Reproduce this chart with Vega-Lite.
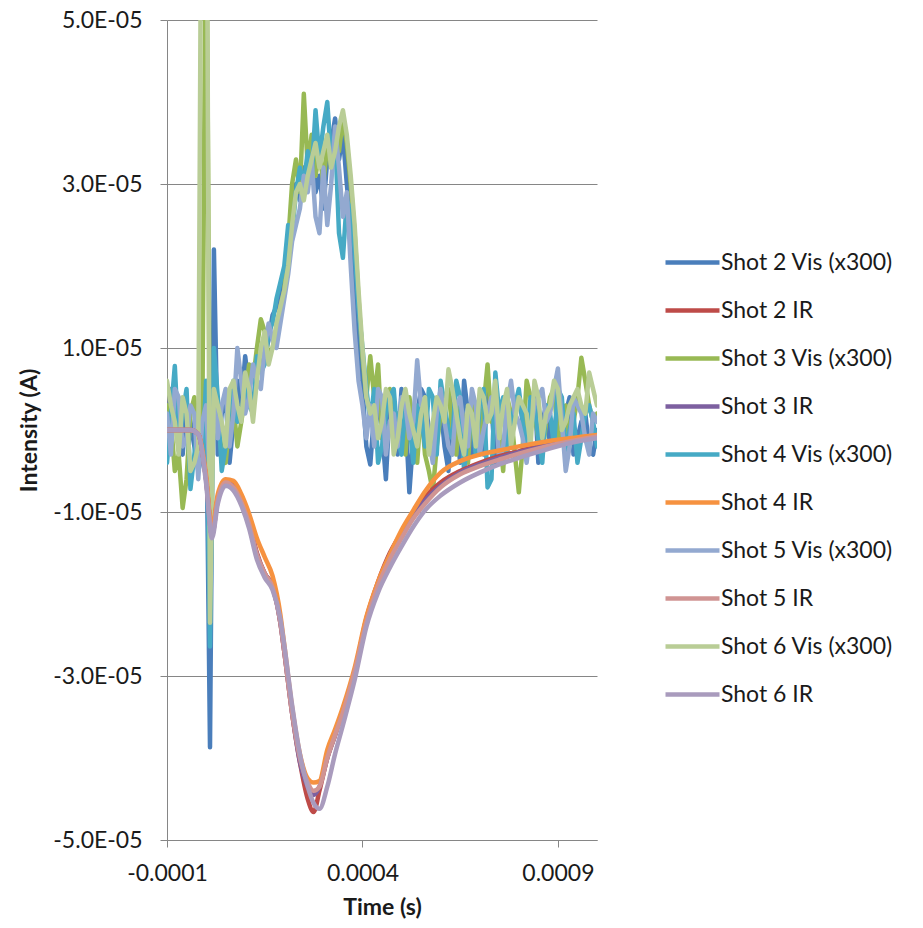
{
  "$schema": "https://vega.github.io/schema/vega-lite/v6.json",
  "width": 430,
  "height": 820,
  "autosize": {"type": "none"},
  "padding": {"left": 167, "top": 20, "right": 326, "bottom": 88},
  "background": "white",
  "datasets": {
    "vis": [
      {"t": -10e-5, "Shot 2 Vis (x300)": -0.2e-5, "Shot 3 Vis  (x300)": 0.3e-5, "Shot 4 Vis (x300)": -0.4e-5, "Shot 5 Vis (x300)": 0.2e-5, "Shot 6 Vis (x300)": 0.6e-5},
      {"t": -8e-5, "Shot 2 Vis (x300)": 0.4e-5, "Shot 3 Vis  (x300)": -0.5e-5, "Shot 4 Vis (x300)": 0.78e-5, "Shot 5 Vis (x300)": 0.5e-5, "Shot 6 Vis (x300)": 0.1e-5},
      {"t": -6e-5, "Shot 2 Vis (x300)": -0.3e-5, "Shot 3 Vis  (x300)": -0.95e-5, "Shot 4 Vis (x300)": 0.2e-5, "Shot 5 Vis (x300)": -0.2e-5, "Shot 6 Vis (x300)": 0.4e-5},
      {"t": -4e-5, "Shot 2 Vis (x300)": 0.1e-5, "Shot 3 Vis  (x300)": 0.2e-5, "Shot 4 Vis (x300)": -0.72e-5, "Shot 5 Vis (x300)": 0.3e-5, "Shot 6 Vis (x300)": -0.5e-5},
      {"t": -2e-5, "Shot 2 Vis (x300)": -0.5e-5, "Shot 3 Vis  (x300)": -0.4e-5, "Shot 4 Vis (x300)": 0.1e-5, "Shot 5 Vis (x300)": -0.6e-5, "Shot 6 Vis (x300)": -0.2e-5},
      {"t": -1e-5, "Shot 2 Vis (x300)": -0.3e-5, "Shot 3 Vis  (x300)": -0.2e-5, "Shot 4 Vis (x300)": -0.4e-5, "Shot 5 Vis (x300)": 0.1e-5, "Shot 6 Vis (x300)": 9e-5},
      {"t": 0e-5, "Shot 2 Vis (x300)": 0.5e-5, "Shot 3 Vis  (x300)": 7e-5, "Shot 4 Vis (x300)": 0.6e-5, "Shot 5 Vis (x300)": 0.3e-5, "Shot 6 Vis (x300)": 9e-5},
      {"t": 1e-5, "Shot 2 Vis (x300)": -3.87e-5, "Shot 3 Vis  (x300)": -0.5e-5, "Shot 4 Vis (x300)": -2.64e-5, "Shot 5 Vis (x300)": -0.6e-5, "Shot 6 Vis (x300)": -2.35e-5},
      {"t": 2e-5, "Shot 2 Vis (x300)": 2.2e-5, "Shot 3 Vis  (x300)": 0.3e-5, "Shot 4 Vis (x300)": 1.0e-5, "Shot 5 Vis (x300)": 0.4e-5, "Shot 6 Vis (x300)": 0.5e-5},
      {"t": 4e-5, "Shot 2 Vis (x300)": 0.2e-5, "Shot 3 Vis  (x300)": -0.3e-5, "Shot 4 Vis (x300)": -0.5e-5, "Shot 5 Vis (x300)": 0.3e-5, "Shot 6 Vis (x300)": 0.1e-5},
      {"t": 6e-5, "Shot 2 Vis (x300)": -0.4e-5, "Shot 3 Vis  (x300)": 0.1e-5, "Shot 4 Vis (x300)": 0.3e-5, "Shot 5 Vis (x300)": -0.2e-5, "Shot 6 Vis (x300)": 0.5e-5},
      {"t": 8e-5, "Shot 2 Vis (x300)": 0.6e-5, "Shot 3 Vis  (x300)": -0.2e-5, "Shot 4 Vis (x300)": 0.1e-5, "Shot 5 Vis (x300)": 1.0e-5, "Shot 6 Vis (x300)": 0.3e-5},
      {"t": 10e-5, "Shot 2 Vis (x300)": 0.9e-5, "Shot 3 Vis  (x300)": 0.4e-5, "Shot 4 Vis (x300)": 0.5e-5, "Shot 5 Vis (x300)": 0.2e-5, "Shot 6 Vis (x300)": 0.7e-5},
      {"t": 12e-5, "Shot 2 Vis (x300)": 0.3e-5, "Shot 3 Vis  (x300)": 0.6e-5, "Shot 4 Vis (x300)": 0.2e-5, "Shot 5 Vis (x300)": 0.8e-5, "Shot 6 Vis (x300)": 0.1e-5},
      {"t": 14e-5, "Shot 2 Vis (x300)": 0.8e-5, "Shot 3 Vis  (x300)": 1.35e-5, "Shot 4 Vis (x300)": 0.7e-5, "Shot 5 Vis (x300)": 0.5e-5, "Shot 6 Vis (x300)": 1.0e-5},
      {"t": 16e-5, "Shot 2 Vis (x300)": 1.1e-5, "Shot 3 Vis  (x300)": 0.9e-5, "Shot 4 Vis (x300)": 1.2e-5, "Shot 5 Vis (x300)": 1.3e-5, "Shot 6 Vis (x300)": 0.8e-5},
      {"t": 18e-5, "Shot 2 Vis (x300)": 1.5e-5, "Shot 3 Vis  (x300)": 1.2e-5, "Shot 4 Vis (x300)": 1.6e-5, "Shot 5 Vis (x300)": 1.0e-5, "Shot 6 Vis (x300)": 1.3e-5},
      {"t": 20e-5, "Shot 2 Vis (x300)": 1.9e-5, "Shot 3 Vis  (x300)": 1.7e-5, "Shot 4 Vis (x300)": 2.0e-5, "Shot 5 Vis (x300)": 1.6e-5, "Shot 6 Vis (x300)": 1.7e-5},
      {"t": 21e-5, "Shot 2 Vis (x300)": 2.2e-5, "Shot 3 Vis  (x300)": 2.3e-5, "Shot 4 Vis (x300)": 2.5e-5, "Shot 5 Vis (x300)": 1.9e-5, "Shot 6 Vis (x300)": 2.0e-5},
      {"t": 22e-5, "Shot 2 Vis (x300)": 2.6e-5, "Shot 3 Vis  (x300)": 3.0e-5, "Shot 4 Vis (x300)": 2.4e-5, "Shot 5 Vis (x300)": 2.3e-5, "Shot 6 Vis (x300)": 2.5e-5},
      {"t": 23e-5, "Shot 2 Vis (x300)": 3.0e-5, "Shot 3 Vis  (x300)": 3.3e-5, "Shot 4 Vis (x300)": 2.9e-5, "Shot 5 Vis (x300)": 2.5e-5, "Shot 6 Vis (x300)": 2.9e-5},
      {"t": 24e-5, "Shot 2 Vis (x300)": 2.8e-5, "Shot 3 Vis  (x300)": 2.9e-5, "Shot 4 Vis (x300)": 3.2e-5, "Shot 5 Vis (x300)": 2.7e-5, "Shot 6 Vis (x300)": 3.0e-5},
      {"t": 25e-5, "Shot 2 Vis (x300)": 3.2e-5, "Shot 3 Vis  (x300)": 4.1e-5, "Shot 4 Vis (x300)": 3.0e-5, "Shot 5 Vis (x300)": 3.1e-5, "Shot 6 Vis (x300)": 2.8e-5},
      {"t": 26e-5, "Shot 2 Vis (x300)": 3.0e-5, "Shot 3 Vis  (x300)": 3.2e-5, "Shot 4 Vis (x300)": 3.4e-5, "Shot 5 Vis (x300)": 2.9e-5, "Shot 6 Vis (x300)": 3.1e-5},
      {"t": 27e-5, "Shot 2 Vis (x300)": 3.4e-5, "Shot 3 Vis  (x300)": 3.6e-5, "Shot 4 Vis (x300)": 3.1e-5, "Shot 5 Vis (x300)": 3.3e-5, "Shot 6 Vis (x300)": 3.3e-5},
      {"t": 28e-5, "Shot 2 Vis (x300)": 2.9e-5, "Shot 3 Vis  (x300)": 3.1e-5, "Shot 4 Vis (x300)": 3.9e-5, "Shot 5 Vis (x300)": 2.6e-5, "Shot 6 Vis (x300)": 3.5e-5},
      {"t": 29e-5, "Shot 2 Vis (x300)": 3.1e-5, "Shot 3 Vis  (x300)": 3.4e-5, "Shot 4 Vis (x300)": 3.3e-5, "Shot 5 Vis (x300)": 2.4e-5, "Shot 6 Vis (x300)": 3.2e-5},
      {"t": 30e-5, "Shot 2 Vis (x300)": 2.7e-5, "Shot 3 Vis  (x300)": 3.0e-5, "Shot 4 Vis (x300)": 3.7e-5, "Shot 5 Vis (x300)": 3.2e-5, "Shot 6 Vis (x300)": 3.4e-5},
      {"t": 31e-5, "Shot 2 Vis (x300)": 3.3e-5, "Shot 3 Vis  (x300)": 3.5e-5, "Shot 4 Vis (x300)": 4.0e-5, "Shot 5 Vis (x300)": 2.5e-5, "Shot 6 Vis (x300)": 3.6e-5},
      {"t": 32e-5, "Shot 2 Vis (x300)": 3.5e-5, "Shot 3 Vis  (x300)": 3.2e-5, "Shot 4 Vis (x300)": 3.3e-5, "Shot 5 Vis (x300)": 3.0e-5, "Shot 6 Vis (x300)": 3.2e-5},
      {"t": 33e-5, "Shot 2 Vis (x300)": 3.8e-5, "Shot 3 Vis  (x300)": 3.6e-5, "Shot 4 Vis (x300)": 3.6e-5, "Shot 5 Vis (x300)": 3.7e-5, "Shot 6 Vis (x300)": 3.4e-5},
      {"t": 34e-5, "Shot 2 Vis (x300)": 3.3e-5, "Shot 3 Vis  (x300)": 3.4e-5, "Shot 4 Vis (x300)": 2.4e-5, "Shot 5 Vis (x300)": 3.2e-5, "Shot 6 Vis (x300)": 3.7e-5},
      {"t": 35e-5, "Shot 2 Vis (x300)": 3.6e-5, "Shot 3 Vis  (x300)": 3.8e-5, "Shot 4 Vis (x300)": 2.1e-5, "Shot 5 Vis (x300)": 2.6e-5, "Shot 6 Vis (x300)": 3.9e-5},
      {"t": 36e-5, "Shot 2 Vis (x300)": 3.0e-5, "Shot 3 Vis  (x300)": 3.5e-5, "Shot 4 Vis (x300)": 2.8e-5, "Shot 5 Vis (x300)": 2.9e-5, "Shot 6 Vis (x300)": 3.6e-5},
      {"t": 37e-5, "Shot 2 Vis (x300)": 2.5e-5, "Shot 3 Vis  (x300)": 3.0e-5, "Shot 4 Vis (x300)": 2.7e-5, "Shot 5 Vis (x300)": 2.0e-5, "Shot 6 Vis (x300)": 3.1e-5},
      {"t": 38e-5, "Shot 2 Vis (x300)": 1.8e-5, "Shot 3 Vis  (x300)": 2.4e-5, "Shot 4 Vis (x300)": 2.2e-5, "Shot 5 Vis (x300)": 1.2e-5, "Shot 6 Vis (x300)": 2.5e-5},
      {"t": 39e-5, "Shot 2 Vis (x300)": 1.1e-5, "Shot 3 Vis  (x300)": 1.6e-5, "Shot 4 Vis (x300)": 1.5e-5, "Shot 5 Vis (x300)": 0.6e-5, "Shot 6 Vis (x300)": 1.7e-5},
      {"t": 40e-5, "Shot 2 Vis (x300)": 0.5e-5, "Shot 3 Vis  (x300)": 0.9e-5, "Shot 4 Vis (x300)": 1.0e-5, "Shot 5 Vis (x300)": 0.3e-5, "Shot 6 Vis (x300)": 1.0e-5},
      {"t": 41e-5, "Shot 2 Vis (x300)": -0.2e-5, "Shot 3 Vis  (x300)": 0.4e-5, "Shot 4 Vis (x300)": 0.5e-5, "Shot 5 Vis (x300)": -0.1e-5, "Shot 6 Vis (x300)": 0.4e-5},
      {"t": 42e-5, "Shot 2 Vis (x300)": -0.42e-5, "Shot 3 Vis  (x300)": 0.9e-5, "Shot 4 Vis (x300)": 0.1e-5, "Shot 5 Vis (x300)": 0.3e-5, "Shot 6 Vis (x300)": 0.2e-5},
      {"t": 44e-5, "Shot 2 Vis (x300)": 0.3e-5, "Shot 3 Vis  (x300)": 0.8e-5, "Shot 4 Vis (x300)": -0.4e-5, "Shot 5 Vis (x300)": 0.5e-5, "Shot 6 Vis (x300)": -0.1e-5},
      {"t": 46e-5, "Shot 2 Vis (x300)": -0.6e-5, "Shot 3 Vis  (x300)": 0.3e-5, "Shot 4 Vis (x300)": 0.2e-5, "Shot 5 Vis (x300)": -0.3e-5, "Shot 6 Vis (x300)": 0.5e-5},
      {"t": 48e-5, "Shot 2 Vis (x300)": 0.1e-5, "Shot 3 Vis  (x300)": -0.2e-5, "Shot 4 Vis (x300)": 0.5e-5, "Shot 5 Vis (x300)": 0.2e-5, "Shot 6 Vis (x300)": -0.3e-5},
      {"t": 50e-5, "Shot 2 Vis (x300)": 0.5e-5, "Shot 3 Vis  (x300)": 0.1e-5, "Shot 4 Vis (x300)": -0.3e-5, "Shot 5 Vis (x300)": 0.4e-5, "Shot 6 Vis (x300)": 0.3e-5},
      {"t": 52e-5, "Shot 2 Vis (x300)": -0.76e-5, "Shot 3 Vis  (x300)": 0.4e-5, "Shot 4 Vis (x300)": 0.1e-5, "Shot 5 Vis (x300)": -0.1e-5, "Shot 6 Vis (x300)": 0.2e-5},
      {"t": 54e-5, "Shot 2 Vis (x300)": 0.2e-5, "Shot 3 Vis  (x300)": -0.4e-5, "Shot 4 Vis (x300)": 0.3e-5, "Shot 5 Vis (x300)": 0.85e-5, "Shot 6 Vis (x300)": -0.2e-5},
      {"t": 56e-5, "Shot 2 Vis (x300)": 0.4e-5, "Shot 3 Vis  (x300)": -0.3e-5, "Shot 4 Vis (x300)": -0.2e-5, "Shot 5 Vis (x300)": 0.3e-5, "Shot 6 Vis (x300)": 0.4e-5},
      {"t": 58e-5, "Shot 2 Vis (x300)": -0.2e-5, "Shot 3 Vis  (x300)": -0.75e-5, "Shot 4 Vis (x300)": 0.4e-5, "Shot 5 Vis (x300)": -0.4e-5, "Shot 6 Vis (x300)": 0.1e-5},
      {"t": 60e-5, "Shot 2 Vis (x300)": 0.3e-5, "Shot 3 Vis  (x300)": 0.2e-5, "Shot 4 Vis (x300)": 0.6e-5, "Shot 5 Vis (x300)": 0.5e-5, "Shot 6 Vis (x300)": 0.3e-5},
      {"t": 62e-5, "Shot 2 Vis (x300)": -0.5e-5, "Shot 3 Vis  (x300)": 0.5e-5, "Shot 4 Vis (x300)": 0.0e-5, "Shot 5 Vis (x300)": -0.2e-5, "Shot 6 Vis (x300)": 0.74e-5},
      {"t": 64e-5, "Shot 2 Vis (x300)": 0.1e-5, "Shot 3 Vis  (x300)": -0.3e-5, "Shot 4 Vis (x300)": 0.6e-5, "Shot 5 Vis (x300)": 0.3e-5, "Shot 6 Vis (x300)": 0.2e-5},
      {"t": 66e-5, "Shot 2 Vis (x300)": 0.6e-5, "Shot 3 Vis  (x300)": 0.1e-5, "Shot 4 Vis (x300)": -0.5e-5, "Shot 5 Vis (x300)": 0.0e-5, "Shot 6 Vis (x300)": -0.3e-5},
      {"t": 68e-5, "Shot 2 Vis (x300)": -0.3e-5, "Shot 3 Vis  (x300)": 0.4e-5, "Shot 4 Vis (x300)": 0.2e-5, "Shot 5 Vis (x300)": 0.5e-5, "Shot 6 Vis (x300)": 0.2e-5},
      {"t": 70e-5, "Shot 2 Vis (x300)": 0.2e-5, "Shot 3 Vis  (x300)": -0.2e-5, "Shot 4 Vis (x300)": 0.3e-5, "Shot 5 Vis (x300)": -0.3e-5, "Shot 6 Vis (x300)": 0.5e-5},
      {"t": 72e-5, "Shot 2 Vis (x300)": 0.5e-5, "Shot 3 Vis  (x300)": 0.8e-5, "Shot 4 Vis (x300)": -0.7e-5, "Shot 5 Vis (x300)": 0.2e-5, "Shot 6 Vis (x300)": 0.1e-5},
      {"t": 74e-5, "Shot 2 Vis (x300)": -0.4e-5, "Shot 3 Vis  (x300)": 0.3e-5, "Shot 4 Vis (x300)": 0.7e-5, "Shot 5 Vis (x300)": 0.4e-5, "Shot 6 Vis (x300)": 0.6e-5},
      {"t": 76e-5, "Shot 2 Vis (x300)": 0.3e-5, "Shot 3 Vis  (x300)": -0.5e-5, "Shot 4 Vis (x300)": 0.4e-5, "Shot 5 Vis (x300)": -0.2e-5, "Shot 6 Vis (x300)": 0.3e-5},
      {"t": 78e-5, "Shot 2 Vis (x300)": 0.0e-5, "Shot 3 Vis  (x300)": 0.2e-5, "Shot 4 Vis (x300)": 0.1e-5, "Shot 5 Vis (x300)": 0.6e-5, "Shot 6 Vis (x300)": -0.2e-5},
      {"t": 80e-5, "Shot 2 Vis (x300)": 0.4e-5, "Shot 3 Vis  (x300)": -0.76e-5, "Shot 4 Vis (x300)": 0.5e-5, "Shot 5 Vis (x300)": 0.1e-5, "Shot 6 Vis (x300)": 0.4e-5},
      {"t": 82e-5, "Shot 2 Vis (x300)": -0.3e-5, "Shot 3 Vis  (x300)": 0.6e-5, "Shot 4 Vis (x300)": -0.2e-5, "Shot 5 Vis (x300)": -0.4e-5, "Shot 6 Vis (x300)": 0.2e-5},
      {"t": 84e-5, "Shot 2 Vis (x300)": 0.5e-5, "Shot 3 Vis  (x300)": 0.2e-5, "Shot 4 Vis (x300)": 0.3e-5, "Shot 5 Vis (x300)": 0.3e-5, "Shot 6 Vis (x300)": 0.6e-5},
      {"t": 86e-5, "Shot 2 Vis (x300)": 0.1e-5, "Shot 3 Vis  (x300)": -0.3e-5, "Shot 4 Vis (x300)": -0.4e-5, "Shot 5 Vis (x300)": 0.5e-5, "Shot 6 Vis (x300)": -0.1e-5},
      {"t": 88e-5, "Shot 2 Vis (x300)": -0.2e-5, "Shot 3 Vis  (x300)": 0.4e-5, "Shot 4 Vis (x300)": 0.2e-5, "Shot 5 Vis (x300)": 0.2e-5, "Shot 6 Vis (x300)": 0.3e-5},
      {"t": 90e-5, "Shot 2 Vis (x300)": 0.3e-5, "Shot 3 Vis  (x300)": -0.1e-5, "Shot 4 Vis (x300)": 0.5e-5, "Shot 5 Vis (x300)": 0.75e-5, "Shot 6 Vis (x300)": 0.5e-5},
      {"t": 92e-5, "Shot 2 Vis (x300)": 0.2e-5, "Shot 3 Vis  (x300)": 0.3e-5, "Shot 4 Vis (x300)": -0.3e-5, "Shot 5 Vis (x300)": -0.5e-5, "Shot 6 Vis (x300)": 0.1e-5},
      {"t": 94e-5, "Shot 2 Vis (x300)": -0.3e-5, "Shot 3 Vis  (x300)": 0.1e-5, "Shot 4 Vis (x300)": 0.2e-5, "Shot 5 Vis (x300)": 0.4e-5, "Shot 6 Vis (x300)": 0.4e-5},
      {"t": 96e-5, "Shot 2 Vis (x300)": 0.1e-5, "Shot 3 Vis  (x300)": 0.88e-5, "Shot 4 Vis (x300)": -0.1e-5, "Shot 5 Vis (x300)": 0.2e-5, "Shot 6 Vis (x300)": 0.3e-5},
      {"t": 98e-5, "Shot 2 Vis (x300)": -0.2e-5, "Shot 3 Vis  (x300)": 0.3e-5, "Shot 4 Vis (x300)": 0.3e-5, "Shot 5 Vis (x300)": -0.3e-5, "Shot 6 Vis (x300)": 0.7e-5},
      {"t": 100e-5, "Shot 2 Vis (x300)": 0.0e-5, "Shot 3 Vis  (x300)": 0.2e-5, "Shot 4 Vis (x300)": -0.2e-5, "Shot 5 Vis (x300)": 0.1e-5, "Shot 6 Vis (x300)": 0.3e-5},
      {"t": -9e-5, "Shot 2 Vis (x300)": 0.5e-5, "Shot 3 Vis  (x300)": 0.1e-5, "Shot 4 Vis (x300)": 0.2e-5, "Shot 5 Vis (x300)": -0.3e-5, "Shot 6 Vis (x300)": 0.3e-5},
      {"t": -7e-5, "Shot 2 Vis (x300)": -0.1e-5, "Shot 3 Vis  (x300)": -0.3e-5, "Shot 4 Vis (x300)": -0.2e-5, "Shot 5 Vis (x300)": 0.4e-5, "Shot 6 Vis (x300)": -0.3e-5},
      {"t": -5e-5, "Shot 2 Vis (x300)": 0.3e-5, "Shot 3 Vis  (x300)": -0.6e-5, "Shot 4 Vis (x300)": 0.5e-5, "Shot 5 Vis (x300)": -0.1e-5, "Shot 6 Vis (x300)": 0.2e-5},
      {"t": -3e-5, "Shot 2 Vis (x300)": -0.2e-5, "Shot 3 Vis  (x300)": 0.4e-5, "Shot 4 Vis (x300)": -0.3e-5, "Shot 5 Vis (x300)": 0.2e-5, "Shot 6 Vis (x300)": -0.4e-5},
      {"t": 3e-5, "Shot 2 Vis (x300)": -0.3e-5, "Shot 3 Vis  (x300)": 0.2e-5, "Shot 4 Vis (x300)": 0.4e-5, "Shot 5 Vis (x300)": -0.1e-5, "Shot 6 Vis (x300)": 0.3e-5},
      {"t": 5e-5, "Shot 2 Vis (x300)": 0.4e-5, "Shot 3 Vis  (x300)": -0.4e-5, "Shot 4 Vis (x300)": -0.2e-5, "Shot 5 Vis (x300)": 0.5e-5, "Shot 6 Vis (x300)": -0.2e-5},
      {"t": 7e-5, "Shot 2 Vis (x300)": 0.1e-5, "Shot 3 Vis  (x300)": 0.3e-5, "Shot 4 Vis (x300)": 0.6e-5, "Shot 5 Vis (x300)": 0.2e-5, "Shot 6 Vis (x300)": 0.6e-5},
      {"t": 9e-5, "Shot 2 Vis (x300)": 0.3e-5, "Shot 3 Vis  (x300)": 0.1e-5, "Shot 4 Vis (x300)": 0.2e-5, "Shot 5 Vis (x300)": 0.6e-5, "Shot 6 Vis (x300)": 0.1e-5},
      {"t": 11e-5, "Shot 2 Vis (x300)": 0.5e-5, "Shot 3 Vis  (x300)": 0.8e-5, "Shot 4 Vis (x300)": 0.3e-5, "Shot 5 Vis (x300)": 0.4e-5, "Shot 6 Vis (x300)": 0.5e-5},
      {"t": 13e-5, "Shot 2 Vis (x300)": 0.7e-5, "Shot 3 Vis  (x300)": 1.0e-5, "Shot 4 Vis (x300)": 0.9e-5, "Shot 5 Vis (x300)": 0.6e-5, "Shot 6 Vis (x300)": 0.6e-5},
      {"t": 15e-5, "Shot 2 Vis (x300)": 0.9e-5, "Shot 3 Vis  (x300)": 1.2e-5, "Shot 4 Vis (x300)": 0.8e-5, "Shot 5 Vis (x300)": 1.0e-5, "Shot 6 Vis (x300)": 1.2e-5},
      {"t": 17e-5, "Shot 2 Vis (x300)": 1.4e-5, "Shot 3 Vis  (x300)": 1.0e-5, "Shot 4 Vis (x300)": 1.3e-5, "Shot 5 Vis (x300)": 1.1e-5, "Shot 6 Vis (x300)": 1.0e-5},
      {"t": 19e-5, "Shot 2 Vis (x300)": 1.6e-5, "Shot 3 Vis  (x300)": 1.5e-5, "Shot 4 Vis (x300)": 1.8e-5, "Shot 5 Vis (x300)": 1.3e-5, "Shot 6 Vis (x300)": 1.5e-5},
      {"t": 43e-5, "Shot 2 Vis (x300)": 0.2e-5, "Shot 3 Vis  (x300)": 0.4e-5, "Shot 4 Vis (x300)": 0.5e-5, "Shot 5 Vis (x300)": -0.2e-5, "Shot 6 Vis (x300)": 0.3e-5},
      {"t": 45e-5, "Shot 2 Vis (x300)": 0.0e-5, "Shot 3 Vis  (x300)": -0.1e-5, "Shot 4 Vis (x300)": -0.2e-5, "Shot 5 Vis (x300)": 0.4e-5, "Shot 6 Vis (x300)": 0.1e-5},
      {"t": 47e-5, "Shot 2 Vis (x300)": 0.3e-5, "Shot 3 Vis  (x300)": 0.5e-5, "Shot 4 Vis (x300)": 0.4e-5, "Shot 5 Vis (x300)": 0.1e-5, "Shot 6 Vis (x300)": 0.4e-5},
      {"t": 49e-5, "Shot 2 Vis (x300)": -0.3e-5, "Shot 3 Vis  (x300)": 0.2e-5, "Shot 4 Vis (x300)": -0.1e-5, "Shot 5 Vis (x300)": -0.2e-5, "Shot 6 Vis (x300)": -0.1e-5},
      {"t": 51e-5, "Shot 2 Vis (x300)": 0.2e-5, "Shot 3 Vis  (x300)": -0.3e-5, "Shot 4 Vis (x300)": 0.3e-5, "Shot 5 Vis (x300)": 0.3e-5, "Shot 6 Vis (x300)": 0.5e-5},
      {"t": 53e-5, "Shot 2 Vis (x300)": -0.1e-5, "Shot 3 Vis  (x300)": 0.1e-5, "Shot 4 Vis (x300)": -0.4e-5, "Shot 5 Vis (x300)": 0.1e-5, "Shot 6 Vis (x300)": 0.0e-5},
      {"t": 55e-5, "Shot 2 Vis (x300)": 0.5e-5, "Shot 3 Vis  (x300)": 0.3e-5, "Shot 4 Vis (x300)": 0.2e-5, "Shot 5 Vis (x300)": 0.3e-5, "Shot 6 Vis (x300)": 0.2e-5},
      {"t": 57e-5, "Shot 2 Vis (x300)": 0.0e-5, "Shot 3 Vis  (x300)": -0.5e-5, "Shot 4 Vis (x300)": 0.5e-5, "Shot 5 Vis (x300)": -0.1e-5, "Shot 6 Vis (x300)": -0.3e-5},
      {"t": 59e-5, "Shot 2 Vis (x300)": 0.2e-5, "Shot 3 Vis  (x300)": -0.2e-5, "Shot 4 Vis (x300)": -0.3e-5, "Shot 5 Vis (x300)": 0.2e-5, "Shot 6 Vis (x300)": 0.4e-5},
      {"t": 61e-5, "Shot 2 Vis (x300)": -0.2e-5, "Shot 3 Vis  (x300)": 0.4e-5, "Shot 4 Vis (x300)": 0.3e-5, "Shot 5 Vis (x300)": 0.1e-5, "Shot 6 Vis (x300)": 0.1e-5},
      {"t": 63e-5, "Shot 2 Vis (x300)": 0.4e-5, "Shot 3 Vis  (x300)": 0.0e-5, "Shot 4 Vis (x300)": -0.1e-5, "Shot 5 Vis (x300)": -0.3e-5, "Shot 6 Vis (x300)": 0.5e-5},
      {"t": 65e-5, "Shot 2 Vis (x300)": -0.4e-5, "Shot 3 Vis  (x300)": 0.3e-5, "Shot 4 Vis (x300)": 0.4e-5, "Shot 5 Vis (x300)": 0.4e-5, "Shot 6 Vis (x300)": -0.1e-5},
      {"t": 67e-5, "Shot 2 Vis (x300)": 0.2e-5, "Shot 3 Vis  (x300)": -0.4e-5, "Shot 4 Vis (x300)": 0.0e-5, "Shot 5 Vis (x300)": -0.2e-5, "Shot 6 Vis (x300)": 0.3e-5},
      {"t": 69e-5, "Shot 2 Vis (x300)": 0.0e-5, "Shot 3 Vis  (x300)": 0.2e-5, "Shot 4 Vis (x300)": -0.3e-5, "Shot 5 Vis (x300)": 0.3e-5, "Shot 6 Vis (x300)": -0.2e-5},
      {"t": 71e-5, "Shot 2 Vis (x300)": -0.3e-5, "Shot 3 Vis  (x300)": 0.3e-5, "Shot 4 Vis (x300)": 0.5e-5, "Shot 5 Vis (x300)": 0.0e-5, "Shot 6 Vis (x300)": 0.4e-5},
      {"t": 73e-5, "Shot 2 Vis (x300)": 0.3e-5, "Shot 3 Vis  (x300)": 0.1e-5, "Shot 4 Vis (x300)": -0.6e-5, "Shot 5 Vis (x300)": 0.4e-5, "Shot 6 Vis (x300)": 0.2e-5},
      {"t": 75e-5, "Shot 2 Vis (x300)": 0.1e-5, "Shot 3 Vis  (x300)": 0.0e-5, "Shot 4 Vis (x300)": 0.2e-5, "Shot 5 Vis (x300)": -0.4e-5, "Shot 6 Vis (x300)": -0.1e-5},
      {"t": 77e-5, "Shot 2 Vis (x300)": -0.2e-5, "Shot 3 Vis  (x300)": 0.4e-5, "Shot 4 Vis (x300)": -0.3e-5, "Shot 5 Vis (x300)": 0.3e-5, "Shot 6 Vis (x300)": 0.5e-5},
      {"t": 79e-5, "Shot 2 Vis (x300)": 0.3e-5, "Shot 3 Vis  (x300)": -0.3e-5, "Shot 4 Vis (x300)": 0.3e-5, "Shot 5 Vis (x300)": 0.2e-5, "Shot 6 Vis (x300)": 0.1e-5},
      {"t": 81e-5, "Shot 2 Vis (x300)": 0.1e-5, "Shot 3 Vis  (x300)": -0.2e-5, "Shot 4 Vis (x300)": 0.1e-5, "Shot 5 Vis (x300)": -0.1e-5, "Shot 6 Vis (x300)": 0.3e-5},
      {"t": 83e-5, "Shot 2 Vis (x300)": 0.2e-5, "Shot 3 Vis  (x300)": 0.4e-5, "Shot 4 Vis (x300)": 0.4e-5, "Shot 5 Vis (x300)": 0.0e-5, "Shot 6 Vis (x300)": -0.2e-5},
      {"t": 85e-5, "Shot 2 Vis (x300)": -0.4e-5, "Shot 3 Vis  (x300)": -0.1e-5, "Shot 4 Vis (x300)": -0.1e-5, "Shot 5 Vis (x300)": 0.4e-5, "Shot 6 Vis (x300)": 0.4e-5},
      {"t": 87e-5, "Shot 2 Vis (x300)": 0.3e-5, "Shot 3 Vis  (x300)": 0.1e-5, "Shot 4 Vis (x300)": 0.3e-5, "Shot 5 Vis (x300)": 0.1e-5, "Shot 6 Vis (x300)": 0.2e-5},
      {"t": 89e-5, "Shot 2 Vis (x300)": 0.0e-5, "Shot 3 Vis  (x300)": 0.5e-5, "Shot 4 Vis (x300)": -0.2e-5, "Shot 5 Vis (x300)": 0.5e-5, "Shot 6 Vis (x300)": 0.6e-5},
      {"t": 91e-5, "Shot 2 Vis (x300)": -0.1e-5, "Shot 3 Vis  (x300)": 0.0e-5, "Shot 4 Vis (x300)": 0.4e-5, "Shot 5 Vis (x300)": 0.1e-5, "Shot 6 Vis (x300)": 0.0e-5},
      {"t": 93e-5, "Shot 2 Vis (x300)": 0.4e-5, "Shot 3 Vis  (x300)": -0.2e-5, "Shot 4 Vis (x300)": 0.0e-5, "Shot 5 Vis (x300)": -0.2e-5, "Shot 6 Vis (x300)": 0.3e-5},
      {"t": 95e-5, "Shot 2 Vis (x300)": -0.1e-5, "Shot 3 Vis  (x300)": 0.4e-5, "Shot 4 Vis (x300)": -0.4e-5, "Shot 5 Vis (x300)": 0.3e-5, "Shot 6 Vis (x300)": 0.5e-5},
      {"t": 97e-5, "Shot 2 Vis (x300)": 0.2e-5, "Shot 3 Vis  (x300)": 0.6e-5, "Shot 4 Vis (x300)": 0.2e-5, "Shot 5 Vis (x300)": -0.1e-5, "Shot 6 Vis (x300)": 0.2e-5},
      {"t": 99e-5, "Shot 2 Vis (x300)": -0.3e-5, "Shot 3 Vis  (x300)": 0.1e-5, "Shot 4 Vis (x300)": 0.1e-5, "Shot 5 Vis (x300)": 0.2e-5, "Shot 6 Vis (x300)": 0.5e-5}
    ],
    "ir": [
      {"t": -10e-5, "Shot 2 IR": 0e-5, "Shot 3 IR": 0e-5, "Shot 4 IR": 0e-5, "Shot 5 IR": 0e-5, "Shot 6 IR": 0e-5},
      {"t": -4e-5, "Shot 2 IR": 0e-5, "Shot 3 IR": 0e-5, "Shot 4 IR": 0e-5, "Shot 5 IR": 0e-5, "Shot 6 IR": 0e-5},
      {"t": -2e-5, "Shot 2 IR": -0.05e-5, "Shot 3 IR": -0.05e-5, "Shot 4 IR": -0.05e-5, "Shot 5 IR": -0.05e-5, "Shot 6 IR": -0.05e-5},
      {"t": 0e-5, "Shot 2 IR": -0.6e-5, "Shot 3 IR": -0.6e-5, "Shot 4 IR": -0.55e-5, "Shot 5 IR": -0.6e-5, "Shot 6 IR": -0.65e-5},
      {"t": 1.5e-5, "Shot 2 IR": -1.25e-5, "Shot 3 IR": -1.28e-5, "Shot 4 IR": -1.22e-5, "Shot 5 IR": -1.28e-5, "Shot 6 IR": -1.32e-5},
      {"t": 3e-5, "Shot 2 IR": -0.82e-5, "Shot 3 IR": -0.85e-5, "Shot 4 IR": -0.78e-5, "Shot 5 IR": -0.85e-5, "Shot 6 IR": -0.9e-5},
      {"t": 5e-5, "Shot 2 IR": -0.62e-5, "Shot 3 IR": -0.64e-5, "Shot 4 IR": -0.6e-5, "Shot 5 IR": -0.64e-5, "Shot 6 IR": -0.68e-5},
      {"t": 7e-5, "Shot 2 IR": -0.68e-5, "Shot 3 IR": -0.7e-5, "Shot 4 IR": -0.62e-5, "Shot 5 IR": -0.7e-5, "Shot 6 IR": -0.74e-5},
      {"t": 9e-5, "Shot 2 IR": -0.85e-5, "Shot 3 IR": -0.88e-5, "Shot 4 IR": -0.78e-5, "Shot 5 IR": -0.88e-5, "Shot 6 IR": -0.92e-5},
      {"t": 11e-5, "Shot 2 IR": -1.12e-5, "Shot 3 IR": -1.15e-5, "Shot 4 IR": -1.02e-5, "Shot 5 IR": -1.15e-5, "Shot 6 IR": -1.2e-5},
      {"t": 13e-5, "Shot 2 IR": -1.5e-5, "Shot 3 IR": -1.52e-5, "Shot 4 IR": -1.32e-5, "Shot 5 IR": -1.52e-5, "Shot 6 IR": -1.58e-5},
      {"t": 15e-5, "Shot 2 IR": -1.75e-5, "Shot 3 IR": -1.75e-5, "Shot 4 IR": -1.55e-5, "Shot 5 IR": -1.75e-5, "Shot 6 IR": -1.8e-5},
      {"t": 17e-5, "Shot 2 IR": -1.9e-5, "Shot 3 IR": -1.92e-5, "Shot 4 IR": -1.78e-5, "Shot 5 IR": -1.92e-5, "Shot 6 IR": -1.95e-5},
      {"t": 19e-5, "Shot 2 IR": -2.35e-5, "Shot 3 IR": -2.35e-5, "Shot 4 IR": -2.25e-5, "Shot 5 IR": -2.35e-5, "Shot 6 IR": -2.3e-5},
      {"t": 20e-5, "Shot 2 IR": -2.7e-5, "Shot 3 IR": -2.7e-5, "Shot 4 IR": -2.62e-5, "Shot 5 IR": -2.7e-5, "Shot 6 IR": -2.62e-5},
      {"t": 22e-5, "Shot 2 IR": -3.45e-5, "Shot 3 IR": -3.45e-5, "Shot 4 IR": -3.38e-5, "Shot 5 IR": -3.45e-5, "Shot 6 IR": -3.35e-5},
      {"t": 24e-5, "Shot 2 IR": -4.05e-5, "Shot 3 IR": -4.05e-5, "Shot 4 IR": -3.95e-5, "Shot 5 IR": -4.0e-5, "Shot 6 IR": -3.95e-5},
      {"t": 26e-5, "Shot 2 IR": -4.5e-5, "Shot 3 IR": -4.35e-5, "Shot 4 IR": -4.25e-5, "Shot 5 IR": -4.3e-5, "Shot 6 IR": -4.35e-5},
      {"t": 27.5e-5, "Shot 2 IR": -4.66e-5, "Shot 3 IR": -4.45e-5, "Shot 4 IR": -4.3e-5, "Shot 5 IR": -4.4e-5, "Shot 6 IR": -4.55e-5},
      {"t": 29e-5, "Shot 2 IR": -4.4e-5, "Shot 3 IR": -4.35e-5, "Shot 4 IR": -4.28e-5, "Shot 5 IR": -4.35e-5, "Shot 6 IR": -4.62e-5},
      {"t": 31e-5, "Shot 2 IR": -4.0e-5, "Shot 3 IR": -4.0e-5, "Shot 4 IR": -3.9e-5, "Shot 5 IR": -4.0e-5, "Shot 6 IR": -4.35e-5},
      {"t": 33e-5, "Shot 2 IR": -3.72e-5, "Shot 3 IR": -3.72e-5, "Shot 4 IR": -3.65e-5, "Shot 5 IR": -3.72e-5, "Shot 6 IR": -3.95e-5},
      {"t": 35e-5, "Shot 2 IR": -3.42e-5, "Shot 3 IR": -3.42e-5, "Shot 4 IR": -3.38e-5, "Shot 5 IR": -3.45e-5, "Shot 6 IR": -3.6e-5},
      {"t": 38e-5, "Shot 2 IR": -2.95e-5, "Shot 3 IR": -2.95e-5, "Shot 4 IR": -2.9e-5, "Shot 5 IR": -2.95e-5, "Shot 6 IR": -3.05e-5},
      {"t": 41e-5, "Shot 2 IR": -2.3e-5, "Shot 3 IR": -2.32e-5, "Shot 4 IR": -2.28e-5, "Shot 5 IR": -2.35e-5, "Shot 6 IR": -2.4e-5},
      {"t": 44e-5, "Shot 2 IR": -1.85e-5, "Shot 3 IR": -1.88e-5, "Shot 4 IR": -1.85e-5, "Shot 5 IR": -1.9e-5, "Shot 6 IR": -1.98e-5},
      {"t": 47e-5, "Shot 2 IR": -1.5e-5, "Shot 3 IR": -1.52e-5, "Shot 4 IR": -1.52e-5, "Shot 5 IR": -1.58e-5, "Shot 6 IR": -1.68e-5},
      {"t": 50e-5, "Shot 2 IR": -1.25e-5, "Shot 3 IR": -1.28e-5, "Shot 4 IR": -1.22e-5, "Shot 5 IR": -1.32e-5, "Shot 6 IR": -1.42e-5},
      {"t": 53e-5, "Shot 2 IR": -1.02e-5, "Shot 3 IR": -1.05e-5, "Shot 4 IR": -0.98e-5, "Shot 5 IR": -1.08e-5, "Shot 6 IR": -1.18e-5},
      {"t": 56e-5, "Shot 2 IR": -0.82e-5, "Shot 3 IR": -0.86e-5, "Shot 4 IR": -0.75e-5, "Shot 5 IR": -0.9e-5, "Shot 6 IR": -0.98e-5},
      {"t": 60e-5, "Shot 2 IR": -0.64e-5, "Shot 3 IR": -0.68e-5, "Shot 4 IR": -0.52e-5, "Shot 5 IR": -0.7e-5, "Shot 6 IR": -0.8e-5},
      {"t": 65e-5, "Shot 2 IR": -0.5e-5, "Shot 3 IR": -0.52e-5, "Shot 4 IR": -0.38e-5, "Shot 5 IR": -0.54e-5, "Shot 6 IR": -0.64e-5},
      {"t": 70e-5, "Shot 2 IR": -0.4e-5, "Shot 3 IR": -0.42e-5, "Shot 4 IR": -0.3e-5, "Shot 5 IR": -0.44e-5, "Shot 6 IR": -0.52e-5},
      {"t": 75e-5, "Shot 2 IR": -0.32e-5, "Shot 3 IR": -0.34e-5, "Shot 4 IR": -0.25e-5, "Shot 5 IR": -0.36e-5, "Shot 6 IR": -0.42e-5},
      {"t": 80e-5, "Shot 2 IR": -0.26e-5, "Shot 3 IR": -0.27e-5, "Shot 4 IR": -0.2e-5, "Shot 5 IR": -0.29e-5, "Shot 6 IR": -0.34e-5},
      {"t": 87e-5, "Shot 2 IR": -0.18e-5, "Shot 3 IR": -0.19e-5, "Shot 4 IR": -0.14e-5, "Shot 5 IR": -0.2e-5, "Shot 6 IR": -0.24e-5},
      {"t": 93e-5, "Shot 2 IR": -0.12e-5, "Shot 3 IR": -0.13e-5, "Shot 4 IR": -0.1e-5, "Shot 5 IR": -0.14e-5, "Shot 6 IR": -0.16e-5},
      {"t": 100e-5, "Shot 2 IR": -0.07e-5, "Shot 3 IR": -0.08e-5, "Shot 4 IR": -0.06e-5, "Shot 5 IR": -0.08e-5, "Shot 6 IR": -0.1e-5}
    ]
  },
  "encoding": {
    "x": {
      "field": "t",
      "type": "quantitative",
      "scale": {"domain": [-0.0001, 0.001], "nice": false, "zero": false},
      "axis": {
        "title": "Time (s)",
        "grid": false,
        "values": [-0.0001, 0.0004, 0.0009],
        "labelExpr": "(datum.value < 0 ? '-' : '') + format(abs(datum.value), '.4f')",
        "labelFlush": false,
        "labelPadding": 15,
        "titlePadding": 11
      }
    },
    "y": {
      "field": "value",
      "type": "quantitative",
      "scale": {"domain": [-0.00005, 0.00005], "nice": false, "zero": false},
      "axis": {
        "title": "Intensity (A)",
        "grid": true,
        "values": [-0.00005, -0.00003, -0.00001, 0.00001, 0.00003, 0.00005],
        "labelExpr": "(datum.value < 0 ? '-' : '') + format(abs(datum.value) * 100000, '.1f') + 'E-05'",
        "labelFlush": false,
        "labelPadding": 18,
        "titlePadding": 11
      }
    },
    "color": {
      "field": "series",
      "type": "nominal",
      "scale": {
        "domain": ["Shot 2 Vis (x300)", "Shot 2 IR", "Shot 3 Vis  (x300)", "Shot 3 IR", "Shot 4 Vis (x300)", "Shot 4 IR", "Shot 5 Vis (x300)", "Shot 5 IR", "Shot 6 Vis (x300)", "Shot 6 IR"],
        "range": ["#4A7EBB", "#BE4B48", "#98B954", "#7D60A0", "#46AAC5", "#F69240", "#93A9D0", "#D09493", "#B9CD96", "#A99BBD"]
      },
      "legend": {
        "title": null,
        "orient": "none",
        "legendX": 496,
        "legendY": 231,
        "padding": 0,
        "symbolType": "M-1,0H5",
        "symbolSize": 324,
        "symbolStrokeWidth": 4.5,
        "symbolFillColor": "transparent",
        "labelOffset": 35,
        "labelFont": "Lato",
        "labelFontSize": 23,
        "labelColor": "#1a1a1a",
        "labelLimit": 400,
        "rowPadding": 24
      }
    }
  },
  "layer": [
    {
      "data": {"name": "vis"},
      "transform": [{"fold": ["Shot 2 Vis (x300)", "Shot 3 Vis  (x300)", "Shot 4 Vis (x300)", "Shot 5 Vis (x300)", "Shot 6 Vis (x300)"], "as": ["series", "value"]}],
      "mark": {"type": "line", "strokeWidth": 4.5, "strokeCap": "round", "strokeJoin": "round", "clip": true}
    },
    {
      "data": {"name": "ir"},
      "transform": [{"fold": ["Shot 2 IR", "Shot 3 IR", "Shot 4 IR", "Shot 5 IR", "Shot 6 IR"], "as": ["series", "value"]}],
      "mark": {"type": "line", "strokeWidth": 4.5, "strokeCap": "round", "strokeJoin": "round", "interpolate": "monotone", "clip": true}
    }
  ],
  "config": {
    "view": {"stroke": null},
    "font": "Lato",
    "axis": {
      "domainColor": "#868686",
      "tickColor": "#868686",
      "gridColor": "#868686",
      "domainWidth": 1,
      "tickWidth": 1,
      "gridWidth": 1,
      "tickSize": 7,
      "labelFont": "Lato",
      "labelFontSize": 23,
      "labelColor": "#1a1a1a",
      "titleFont": "Lato",
      "titleFontSize": 23,
      "titleFontWeight": "bold",
      "titleColor": "#1a1a1a"
    }
  }
}
